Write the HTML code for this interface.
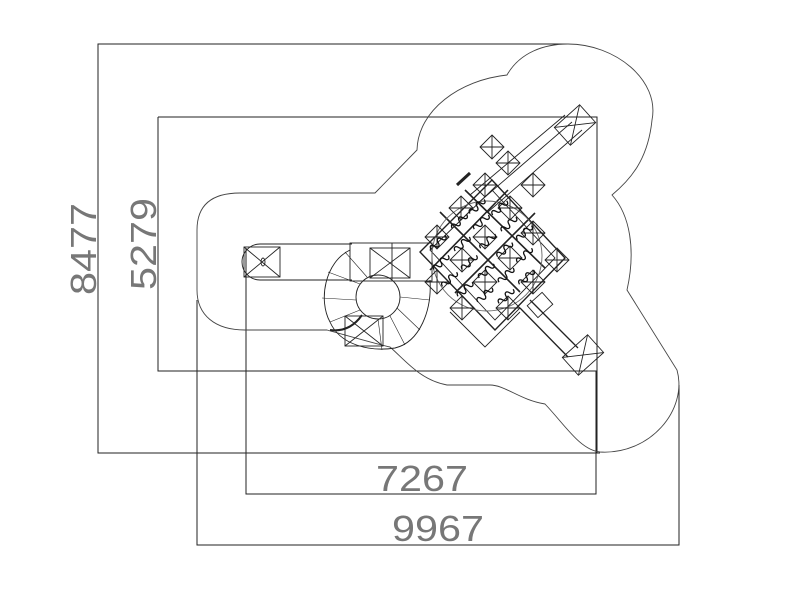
<!DOCTYPE html>
<html><head><meta charset="utf-8"><style>
html,body{margin:0;padding:0;background:#fff;}
svg{display:block;}
text{font-family:"Liberation Sans",sans-serif;fill:#777;}
</style></head><body>
<svg width="800" height="593" viewBox="0 0 800 593" xmlns="http://www.w3.org/2000/svg">
<defs>
<g id="post" fill="none" stroke="#222" stroke-width="0.9">
<path d="M0,-12 L12,0 L0,12 L-12,0 Z M-12,0 H12 M0,-12 V12"/>
</g>
<path id="sq" fill="none" stroke="#111" stroke-width="1.3" d="M0,0 c1,-4 4,-4 5,0 s4,4 5,0 s4,-4 5,0 s4,4 5,0"/>
</defs>
<g fill="none" stroke="#222" stroke-width="1">
<polyline points="568,44 98,44 98,453 600,453"/>
<polyline points="158,117 597,117 597,453"/>
<polyline points="158,117 158,371 597,371"/>
<polyline points="246,248 246,494 596,494 596,371"/>
<polyline points="197,300 197,545 679,545 679,385"/>
</g>
<path fill="none" stroke="#444" stroke-width="0.9" d="M375,193 L417,150 C418,110 460,80 507,75 C520,52 545,44 568,44 C615,44 660,80 652,120 C648,160 630,180 612,195 C630,215 636,250 627,290 L677,370 C688,410 650,455 600,452 C580,450 565,425 545,404 C520,400 505,385 490,385 L447,385 C420,380 405,360 390,347 C380,345 345,335 327,330 L245,330 C215,330 197,315 197,290 L197,230 C197,205 212,193 240,193 Z"/>
<g fill="none" stroke="#222" stroke-width="0.9">
<path d="M260,244 L352,244 M260,280 L352,280 M260,244 A18,18 0 0 0 260,280"/>
<rect x="244" y="247" width="36" height="30"/>
<line x1="244" y1="247" x2="280" y2="277"/><line x1="280" y1="247" x2="244" y2="277"/>
<ellipse cx="263" cy="262" rx="2" ry="4"/>
<rect x="350" y="243" width="82" height="38"/>
<rect x="370" y="248" width="40" height="30"/>
<line x1="370" y1="248" x2="410" y2="278"/><line x1="410" y1="248" x2="370" y2="278"/>
<line x1="392" y1="243" x2="392" y2="281"/>
<circle cx="378" cy="297" r="22"/>
<path d="M350,250 C325,262 318,300 330,322 C340,345 370,352 395,348 C420,342 432,310 430,280"/>
<g stroke-width="0.6">
<line x1="378" y1="319" x2="382" y2="350"/><line x1="390" y1="316" x2="405" y2="345"/><line x1="397" y1="308" x2="420" y2="330"/>
<line x1="400" y1="297" x2="430" y2="300"/><line x1="356" y1="300" x2="322" y2="298"/><line x1="360" y1="284" x2="328" y2="272"/>
<line x1="367" y1="277" x2="345" y2="252"/><line x1="360" y1="310" x2="330" y2="322"/>
</g>
<rect x="345" y="316" width="38" height="30"/>
<line x1="345" y1="316" x2="383" y2="346"/><line x1="383" y1="316" x2="345" y2="346"/>
<path d="M330,330 C345,332 355,325 362,315" stroke-width="2"/>
<path d="M420,252 L492,180 L565,258 L495,330 Z" stroke-width="1.4"/>
<path d="M430,250 L492,190 L555,258 L495,320 Z"/>
<path d="M450,312 L485,347 L520,312"/>
<path d="M440,212 L520,292 M465,190 L545,268 M430,270 L508,190 M455,293 L535,213" stroke-width="1.6"/>
<circle cx="487" cy="256" r="55" stroke="#666"/>
<path d="M470,195 L565,115 M478,203 L572,122 M488,212 L582,130"/>
<path d="M530,300 L578,348 M520,308 L568,357" stroke-width="1.3"/>
<path d="M457,185 L470,173" stroke-width="3"/>
<g transform="translate(575,125) rotate(-42)"><rect x="-17" y="-12" width="34" height="24"/><path d="M-17,-12 L17,12 M17,-12 L-17,12"/></g>
<g transform="translate(583,355) rotate(-42)"><rect x="-17" y="-12" width="34" height="24"/><path d="M-17,-12 L17,12 M17,-12 L-17,12"/></g>
<g transform="translate(540,305) rotate(-42)"><rect x="-10" y="-8" width="20" height="16"/></g>
</g>
<use href="#post" x="492" y="147"/><use href="#post" x="508" y="163"/><use href="#post" x="485" y="185"/>
<use href="#post" x="533" y="185"/><use href="#post" x="510" y="208"/><use href="#post" x="461" y="208"/>
<use href="#post" x="533" y="233"/><use href="#post" x="557" y="260"/><use href="#post" x="462" y="260"/>
<use href="#post" x="510" y="258"/><use href="#post" x="485" y="237"/><use href="#post" x="437" y="237"/>
<use href="#post" x="437" y="282"/><use href="#post" x="485" y="282"/><use href="#post" x="533" y="282"/>
<use href="#post" x="462" y="308"/><use href="#post" x="508" y="308"/>
<g transform="rotate(-45 487 256)">
<use href="#sq" x="452" y="212"/><use href="#sq" x="482" y="212"/><use href="#sq" x="505" y="214"/>
<use href="#sq" x="440" y="228"/><use href="#sq" x="468" y="230"/><use href="#sq" x="497" y="228"/><use href="#sq" x="520" y="231"/>
<use href="#sq" x="434" y="246"/><use href="#sq" x="460" y="248"/><use href="#sq" x="488" y="246"/><use href="#sq" x="515" y="249"/>
<use href="#sq" x="438" y="264"/><use href="#sq" x="466" y="266"/><use href="#sq" x="494" y="264"/><use href="#sq" x="520" y="266"/>
<use href="#sq" x="448" y="282"/><use href="#sq" x="477" y="283"/><use href="#sq" x="504" y="282"/>
<use href="#sq" x="462" y="298"/><use href="#sq" x="490" y="299"/>
</g>
<text x="0" y="0" font-size="36" transform="translate(96,295) rotate(-90)" textLength="92" lengthAdjust="spacingAndGlyphs">8477</text>
<text x="0" y="0" font-size="36" transform="translate(156,290) rotate(-90)" textLength="92" lengthAdjust="spacingAndGlyphs">5279</text>
<text x="376" y="491" font-size="36" textLength="92" lengthAdjust="spacingAndGlyphs">7267</text>
<text x="392" y="541" font-size="36" textLength="92" lengthAdjust="spacingAndGlyphs">9967</text>
</svg>
</body></html>
